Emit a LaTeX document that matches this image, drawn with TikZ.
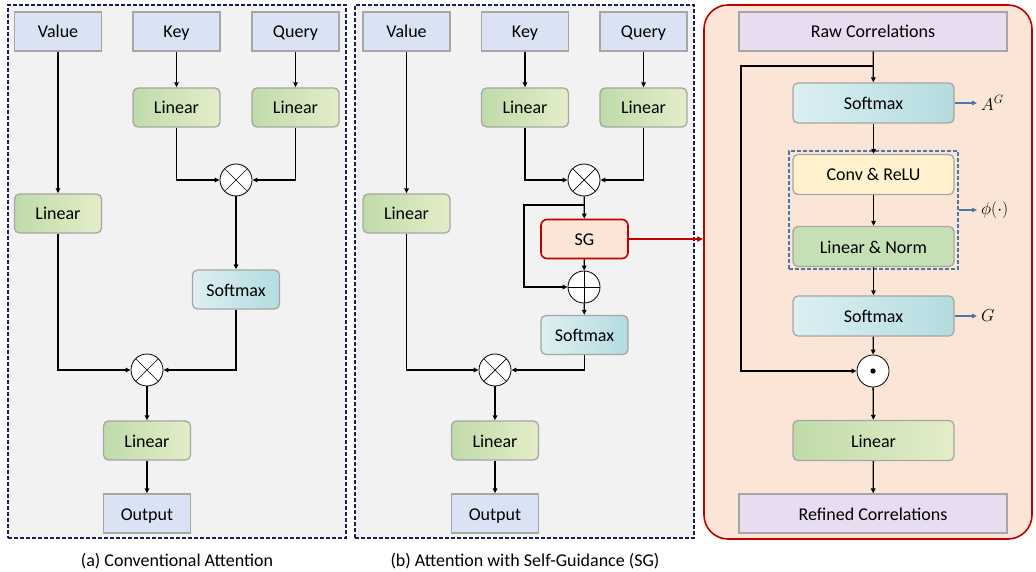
\documentclass[tikz,border=0pt]{standalone}
\usepackage{fontspec}
\setmainfont{Carlito}
\usetikzlibrary{positioning,arrows.meta}

\definecolor{panelgray}{HTML}{F2F2F2}
\definecolor{paneldash}{HTML}{1C1F55}
\definecolor{boxgray}{HTML}{A6A6A6}
\definecolor{inblue}{HTML}{DAE3F3}
\definecolor{lingreenA}{HTML}{BFDBAA}
\definecolor{lingreenB}{HTML}{E4EDC8}
\definecolor{smxA}{HTML}{DDEFF3}
\definecolor{smxB}{HTML}{B3DCDF}
\definecolor{sgred}{HTML}{C00000}
\definecolor{sgpeach}{HTML}{FBE5D6}
\definecolor{corrlilac}{HTML}{E7DCF0}
\definecolor{convyellow}{HTML}{FFF2CC}
\definecolor{normgreen}{HTML}{C5E0B4}
\definecolor{phiblue}{HTML}{4A76A8}

\begin{document}
\begin{tikzpicture}[x=1pt, y=-1pt,
  font=\fontsize{18}{21}\selectfont,
  panel/.style={draw=paneldash, fill=panelgray, line width=1.4pt,
                dash pattern=on 4pt off 2pt, inner sep=0pt},
  blk/.style={draw=boxgray, line width=1.3pt, inner sep=0pt,
              text height=15pt, text depth=2pt,
              minimum width=87pt, minimum height=39pt},
  inp/.style={blk, fill=inblue},
  lin/.style={blk, rounded corners=5pt, left color=lingreenA, right color=lingreenB},
  smx/.style={blk, rounded corners=5pt, left color=smxA, right color=smxB},
  wide/.style={minimum width=161pt, minimum height=40pt},
  op/.style={circle, draw=black, fill=white, line width=0.8pt,
             minimum size=32pt, inner sep=0pt},
  otimes/.style={op, path picture={
      \draw[line width=0.7pt] (path picture bounding box.north west) -- (path picture bounding box.south east)
                              (path picture bounding box.north east) -- (path picture bounding box.south west);}},
  oplus/.style={op, path picture={
      \draw[line width=0.7pt] (path picture bounding box.north) -- (path picture bounding box.south)
                              (path picture bounding box.west) -- (path picture bounding box.east);}},
  odot/.style={op, path picture={\fill[black] (path picture bounding box.center) circle (2.6pt);}},
  arr/.style={-{Triangle[length=5pt,width=4.5pt]}, line width=1.3pt},
  redarr/.style={-{Triangle[length=6pt,width=5pt]}, draw=sgred, line width=1.5pt},
  bluearr/.style={-{Triangle[length=5pt,width=4.5pt]}, draw=phiblue, line width=1.3pt}]

\useasboundingbox (0,0) rectangle (1036,572);

% (a) conventional attention
\node[panel, minimum width=338pt, minimum height=533pt] (pa) at (177,271.5) {};
\node[inp] (va) at (58,31.5) {Value};
\node[inp] (ka) at (176.5,31.5) {Key};
\node[inp] (qa) at (295.5,31.5) {Query};
\node[lin] (lka) at (176.5,107.5) {Linear};
\node[lin] (lqa) at (295.5,107.5) {Linear};
\node[otimes] (mula) at (236,180) {};
\node[lin] (lva) at (58,213.5) {Linear};
\node[smx] (sma) at (236,289.5) {Softmax};
\node[otimes] (mulva) at (147,370) {};
\node[lin] (loa) at (147,440.5) {Linear};
\node[inp] (outa) at (147,513.5) {Output};
\node (capa) at (177,561) {(a) Conventional Attention};

\draw[arr] (va) -- (lva);
\draw[arr] (ka) -- (lka);
\draw[arr] (qa) -- (lqa);
\draw[arr] (lka) |- (mula);
\draw[arr] (lqa) |- (mula);
\draw[arr] (mula) -- (sma);
\draw[arr] (lva) |- (mulva);
\draw[arr] (sma) |- (mulva);
\draw[arr] (mulva) -- (loa);
\draw[arr] (loa) -- (outa);

% (b) attention with self-guidance
\node[panel, minimum width=339pt, minimum height=533pt] (pb) at (524.5,271.5) {};
\node[inp] (vb) at (406.5,31.5) {Value};
\node[inp] (kb) at (525,31.5) {Key};
\node[inp] (qb) at (643.5,31.5) {Query};
\node[lin] (lkb) at (525,107.5) {Linear};
\node[lin] (lqb) at (643.5,107.5) {Linear};
\node[otimes] (mulb) at (584,180) {};
\node[lin] (lvb) at (406.5,213.5) {Linear};
\node[blk, draw=sgred, line width=1.6pt, fill=sgpeach, rounded corners=6pt] (sgb) at (584.5,239) {SG};
\node[oplus] (addb) at (584,287) {};
\node[smx] (smb) at (584.5,335) {Softmax};
\node[otimes] (mulvb) at (495,370) {};
\node[lin] (lob) at (495,440.5) {Linear};
\node[inp] (outb) at (495,513.5) {Output};
\node (capb) at (525,561) {(b) Attention with Self-Guidance (SG)};
\coordinate (brb) at (584,205);

\draw[arr] (vb) -- (lvb);
\draw[arr] (kb) -- (lkb);
\draw[arr] (qb) -- (lqb);
\draw[arr] (lkb) |- (mulb);
\draw[arr] (lqb) |- (mulb);
\draw[arr] (mulb) -- (sgb);
\draw[arr] (brb) -- ++(-60,0) |- (addb);
\draw[arr] (sgb) -- (addb);
\draw[arr] (addb) -- (smb);
\draw[arr] (lvb) |- (mulvb);
\draw[arr] (smb) |- (mulvb);
\draw[arr] (mulvb) -- (lob);
\draw[arr] (lob) -- (outb);

% (c) inside the SG block
\node[draw=sgred, fill=sgpeach, line width=1.6pt, rounded corners=24pt,
      minimum width=328pt, minimum height=534pt] (pc) at (868,272) {};
\node[inp, fill=corrlilac, minimum width=268pt] (raw) at (873,31.5) {Raw Correlations};
\node[smx, wide] (smc1) at (873.5,103) {Softmax};
\node[draw=phiblue, line width=1.3pt, dash pattern=on 4pt off 2pt,
      minimum width=169pt, minimum height=118pt] (phi) at (873.5,210) {};
\node[blk, wide, rounded corners=5pt, fill=convyellow] (conv) at (873.5,174.5) {Conv \& ReLU};
\node[blk, wide, rounded corners=5pt, fill=normgreen] (norm) at (873.5,246.5) {Linear \& Norm};
\node[smx, wide] (smc2) at (873.5,316) {Softmax};
\node[odot] (dotc) at (873,371) {};
\node[lin, wide] (linc) at (873.5,440.5) {Linear};
\node[inp, fill=corrlilac, minimum width=268pt] (refc) at (873,513.5) {Refined Correlations};
\node[anchor=west, inner sep=4pt] (ag) at (977,103) {$A^G$};
\node[anchor=west, inner sep=4pt] (phil) at (977,210) {$\phi(\cdot)$};
\node[anchor=west, inner sep=4pt] (gl) at (977,316) {$G$};
\coordinate (brc) at (873,66);

\draw[arr] (raw) -- (smc1);
\draw[arr] (brc) -- ++(-132,0) |- (dotc);
\draw[arr] (smc1) -- (conv);
\draw[arr] (conv) -- (norm);
\draw[arr] (norm) -- (smc2);
\draw[arr] (smc2) -- (dotc);
\draw[arr] (dotc) -- (linc);
\draw[arr] (linc) -- (refc);
\draw[bluearr] (smc1) -- (ag);
\draw[bluearr] (phi) -- (phil);
\draw[bluearr] (smc2) -- (gl);

\draw[redarr] (sgb) -- (sgb -| pc.west);
\end{tikzpicture}
\end{document}
